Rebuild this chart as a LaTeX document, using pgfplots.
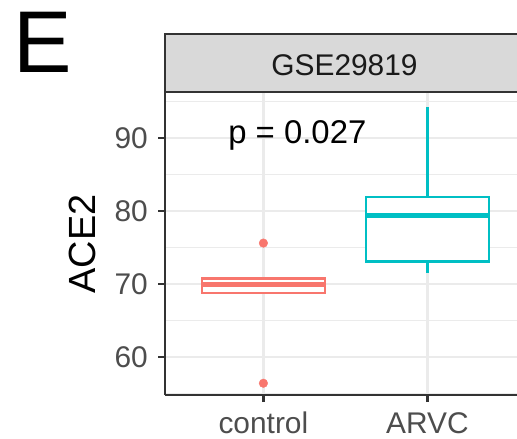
\documentclass[border=0pt]{standalone}
\usepackage{pgfplots}
\pgfplotsset{compat=1.18}
\usepackage{fontspec}
\setmainfont{Liberation Sans}
\definecolor{ctrl}{HTML}{F8766D}
\definecolor{arvc}{HTML}{00BFC4}
\definecolor{gridgray}{HTML}{EBEBEB}
\definecolor{axisgray}{HTML}{333333}
\definecolor{tickgray}{HTML}{4D4D4D}
\definecolor{stripgray}{HTML}{D9D9D9}
\definecolor{striptext}{HTML}{1A1A1A}

\begin{document}
\begin{tikzpicture}
\useasboundingbox (0,0) rectangle (517bp,439bp);
\begin{axis}[
    at={(165bp,44bp)}, anchor=south west,
    scale only axis,
    width=352bp, height=303bp,
    xmin=0.4, xmax=2.5463,
    ymin=54.79, ymax=96.3,
    axis lines*=left,
    axis line style={-, draw=axisgray, line width=2.2bp},
    xtick={1,2}, xticklabels={control, ARVC},
    ytick={60,70,80,90},
    minor ytick={55,65,75,85,95},
    grid=both,
    major grid style={draw=gridgray, line width=2.2bp},
    minor grid style={draw=gridgray, line width=1.1bp},
    tick align=outside,
    major tick length=7bp,
    minor tick length=0pt,
    tick style={draw=axisgray, line width=2.2bp},
    /pgf/number format/assume math mode=true,
    tick label style={font=\fontsize{30}{32}\selectfont, text=tickgray},
    yticklabel style={inner sep=0pt, xshift=-10bp},
    xticklabel style={inner sep=0pt, yshift=-10bp},
    clip=false,
]
% control: box (Q1, Q3), median, outliers
\addplot[draw=ctrl, fill=white, line width=2.3bp, line join=miter]
    coordinates {(0.625,68.75) (1.375,68.75) (1.375,70.75) (0.625,70.75)} -- cycle;
\addplot[draw=ctrl, line width=4.6bp] coordinates {(0.625,69.95) (1.375,69.95)};
\addplot[only marks, mark=*, mark size=4.3bp, color=ctrl, mark options={draw=ctrl, fill=ctrl}]
    coordinates {(1,75.6) (1,56.4)};
% ARVC: whiskers, box, median
\addplot[draw=arvc, line width=2.3bp] coordinates {(2,81.88) (2,94.2)};
\addplot[draw=arvc, line width=2.3bp] coordinates {(2,73.06) (2,71.55)};
\addplot[draw=arvc, fill=white, line width=2.3bp, line join=miter]
    coordinates {(1.625,73.06) (2.375,73.06) (2.375,81.88) (1.625,81.88)} -- cycle;
\addplot[draw=arvc, line width=4.6bp] coordinates {(1.625,79.4) (2.375,79.4)};
\node[anchor=base, font=\fontsize{33}{36}\selectfont] at (axis cs:1.207,89.3) {p = 0.027};
\end{axis}
\draw[fill=stripgray, draw=axisgray, line width=2.2bp] (165bp,347bp) rectangle (545bp,405bp);
\node[anchor=base, text=striptext, font=\fontsize{30}{32}\selectfont] at (344.5bp,363.3bp) {GSE29819};
\node[rotate=90, font=\fontsize{38}{40}\selectfont] at (82bp,195bp) {ACE2};
\node[anchor=base west, inner sep=0pt, font=\fontsize{88}{90}\selectfont] at (13bp,366.3bp) {E};
\end{tikzpicture}
\end{document}
